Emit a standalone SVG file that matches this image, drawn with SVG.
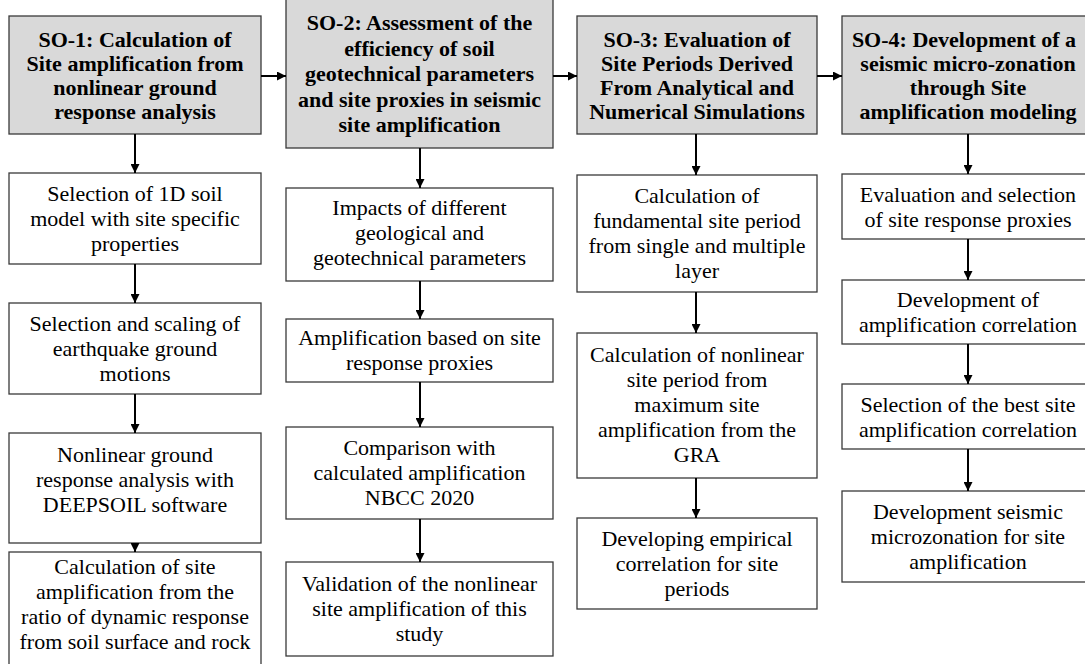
<svg xmlns="http://www.w3.org/2000/svg" width="1085" height="664" viewBox="0 0 1085 664">
<defs>
<marker id="ah" markerUnits="userSpaceOnUse" markerWidth="10" markerHeight="9" refX="9" refY="4.5" orient="auto">
<path d="M0,0 L9,4.5 L0,9 z" fill="#000"/>
</marker>
<style>
.hd{fill:#d9d9d9;stroke:#3a3a3a;stroke-width:1.3}
.bx{fill:#fff;stroke:#3a3a3a;stroke-width:1.3}
.ht{font-family:"Liberation Serif","Times New Roman","DejaVu Serif",serif;font-weight:bold;font-size:22px;text-anchor:middle;fill:#000}
.bt{font-family:"Liberation Serif","Times New Roman","DejaVu Serif",serif;font-size:22px;text-anchor:middle;fill:#000}
.cn{stroke:#000;stroke-width:2;fill:none;marker-end:url(#ah)}
</style>
</defs>
<rect width="1085" height="664" fill="#fff"/>

<g id="so1">
<rect class="hd" x="9" y="16" width="252" height="118"/>
<text class="ht" x="135" y="46.5">SO-1: Calculation of</text>
<text class="ht" x="135" y="70.5">Site amplification from</text>
<text class="ht" x="135" y="94.5">nonlinear ground</text>
<text class="ht" x="135" y="118.5">response analysis</text>
</g>
<g id="so2">
<rect class="hd" x="286" y="-1" width="267" height="149"/>
<text class="ht" x="419.5" y="30">SO-2: Assessment of the</text>
<text class="ht" x="419.5" y="55.5">efficiency of soil</text>
<text class="ht" x="419.5" y="81">geotechnical parameters</text>
<text class="ht" x="419.5" y="106.5">and site proxies in seismic</text>
<text class="ht" x="419.5" y="132">site amplification</text>
</g>
<g id="so3">
<rect class="hd" x="577" y="16" width="240" height="118"/>
<text class="ht" x="697" y="46.5">SO-3: Evaluation of</text>
<text class="ht" x="697" y="70.5">Site Periods Derived</text>
<text class="ht" x="697" y="94.5">From Analytical and</text>
<text class="ht" x="697" y="118.5">Numerical Simulations</text>
</g>
<g id="so4">
<rect class="hd" x="842" y="16" width="252" height="118"/>
<text class="ht" x="964" y="46.5">SO-4: Development of a</text>
<text class="ht" x="968" y="70.5">seismic micro-zonation</text>
<text class="ht" x="968" y="94.5">through Site</text>
<text class="ht" x="968" y="118.5">amplification modeling</text>
</g>

<g id="s1b1">
<rect class="bx" x="9" y="173" width="252" height="91"/>
<text class="bt" x="135" y="201">Selection of 1D soil</text>
<text class="bt" x="135" y="226">model with site specific</text>
<text class="bt" x="135" y="251">properties</text>
</g>
<g id="s1b2">
<rect class="bx" x="9" y="303" width="252" height="91"/>
<text class="bt" x="135" y="331">Selection and scaling of</text>
<text class="bt" x="135" y="356">earthquake ground</text>
<text class="bt" x="135" y="381">motions</text>
</g>
<g id="s1b3">
<rect class="bx" x="9" y="433" width="252" height="110"/>
<text class="bt" x="135" y="462">Nonlinear ground</text>
<text class="bt" x="135" y="487">response analysis with</text>
<text class="bt" x="135" y="512">DEEPSOIL software</text>
</g>
<g id="s1b4">
<rect class="bx" x="9" y="552" width="252" height="130"/>
<text class="bt" x="135" y="574">Calculation of site</text>
<text class="bt" x="135" y="599">amplification from the</text>
<text class="bt" x="135" y="624">ratio of dynamic response</text>
<text class="bt" x="135" y="649">from soil surface and rock</text>
</g>

<g id="s2b1">
<rect class="bx" x="286" y="188" width="267" height="93"/>
<text class="bt" x="419.5" y="215">Impacts of different</text>
<text class="bt" x="419.5" y="240">geological and</text>
<text class="bt" x="419.5" y="265">geotechnical parameters</text>
</g>
<g id="s2b2">
<rect class="bx" x="286" y="319" width="267" height="63"/>
<text class="bt" x="419.5" y="345">Amplification based on site</text>
<text class="bt" x="419.5" y="370">response proxies</text>
</g>
<g id="s2b3">
<rect class="bx" x="286" y="427" width="267" height="92"/>
<text class="bt" x="419.5" y="455">Comparison with</text>
<text class="bt" x="419.5" y="480">calculated amplification</text>
<text class="bt" x="419.5" y="505">NBCC 2020</text>
</g>
<g id="s2b4">
<rect class="bx" x="286" y="562" width="267" height="94"/>
<text class="bt" x="419.5" y="591">Validation of the nonlinear</text>
<text class="bt" x="419.5" y="616">site amplification of this</text>
<text class="bt" x="419.5" y="641">study</text>
</g>

<g id="s3b1">
<rect class="bx" x="577" y="175" width="240" height="117"/>
<text class="bt" x="697" y="203">Calculation of</text>
<text class="bt" x="697" y="228">fundamental site period</text>
<text class="bt" x="697" y="253">from single and multiple</text>
<text class="bt" x="697" y="278">layer</text>
</g>
<g id="s3b2">
<rect class="bx" x="577" y="333" width="240" height="145"/>
<text class="bt" x="697" y="362">Calculation of nonlinear</text>
<text class="bt" x="697" y="387">site period from</text>
<text class="bt" x="697" y="412">maximum site</text>
<text class="bt" x="697" y="437">amplification from the</text>
<text class="bt" x="697" y="462">GRA</text>
</g>
<g id="s3b3">
<rect class="bx" x="577" y="518" width="240" height="91"/>
<text class="bt" x="697" y="546">Developing empirical</text>
<text class="bt" x="697" y="571">correlation for site</text>
<text class="bt" x="697" y="596">periods</text>
</g>

<g id="s4b1">
<rect class="bx" x="842" y="174" width="252" height="65"/>
<text class="bt" x="968" y="201.5">Evaluation and selection</text>
<text class="bt" x="968" y="226.5">of site response proxies</text>
</g>
<g id="s4b2">
<rect class="bx" x="842" y="280" width="252" height="64"/>
<text class="bt" x="968" y="307">Development of</text>
<text class="bt" x="968" y="332">amplification correlation</text>
</g>
<g id="s4b3">
<rect class="bx" x="842" y="384" width="252" height="65"/>
<text class="bt" x="968" y="411.5">Selection of the best site</text>
<text class="bt" x="968" y="436.5">amplification correlation</text>
</g>
<g id="s4b4">
<rect class="bx" x="842" y="491" width="252" height="91"/>
<text class="bt" x="968" y="519">Development seismic</text>
<text class="bt" x="968" y="544">microzonation for site</text>
<text class="bt" x="968" y="569">amplification</text>
</g>

<g id="connectors">
<line class="cn" x1="261" y1="76" x2="286" y2="76"/>
<line class="cn" x1="553" y1="76" x2="577" y2="76"/>
<line class="cn" x1="817" y1="76" x2="842" y2="76"/>

<line class="cn" x1="135" y1="134" x2="135" y2="173"/>
<line class="cn" x1="135" y1="264" x2="135" y2="303"/>
<line class="cn" x1="135" y1="394" x2="135" y2="433"/>
<line class="cn" x1="135" y1="543" x2="135" y2="552"/>

<line class="cn" x1="420" y1="148" x2="420" y2="188"/>
<line class="cn" x1="420" y1="281" x2="420" y2="319"/>
<line class="cn" x1="420" y1="382" x2="420" y2="427"/>
<line class="cn" x1="420" y1="519" x2="420" y2="562"/>

<line class="cn" x1="696" y1="134" x2="696" y2="175"/>
<line class="cn" x1="696" y1="292" x2="696" y2="333"/>
<line class="cn" x1="696" y1="478" x2="696" y2="518"/>

<line class="cn" x1="968" y1="134" x2="968" y2="174"/>
<line class="cn" x1="968" y1="239" x2="968" y2="280"/>
<line class="cn" x1="968" y1="344" x2="968" y2="384"/>
<line class="cn" x1="968" y1="449" x2="968" y2="491"/>
</g>
</svg>
